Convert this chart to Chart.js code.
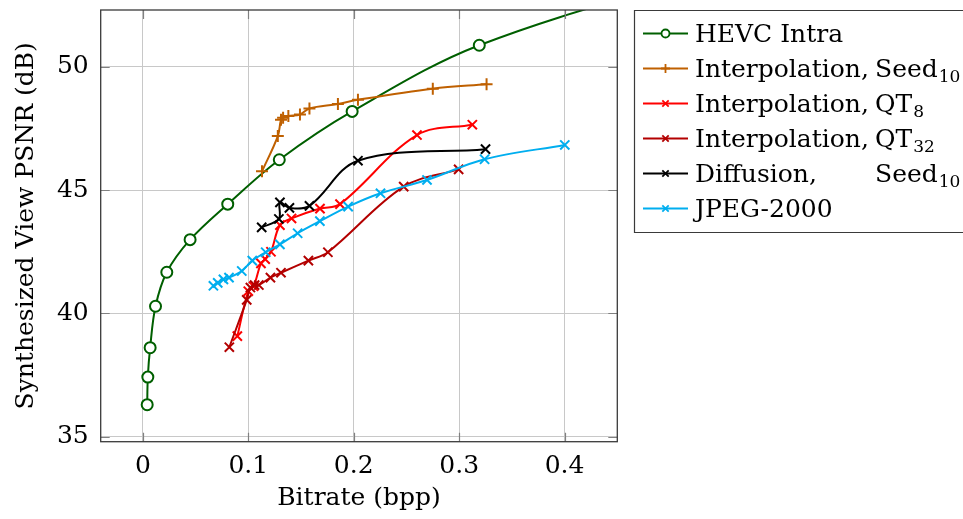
<!DOCTYPE html>
<html>
<head>
<meta charset="utf-8">
<script src="https://cdn.jsdelivr.net/npm/chart.js@4/dist/chart.umd.min.js"></script>
<style>
  html, body { margin: 0; padding: 0; background: #fff; overflow: hidden; }
  #wrap { position: relative; width: 963px; height: 519px; }
</style>
</head>
<body>
<div id="wrap"><canvas id="c" width="963" height="519"></canvas></div>
<script>
// ---------- data ----------
const hevcX = [0.0041, 0.0047, 0.0069, 0.012, 0.0227, 0.0448, 0.0805, 0.1294, 0.1985, 0.3191, 0.55];
const hevcY = [36.30, 37.42, 38.61, 40.29, 41.67, 42.99, 44.43, 46.23, 48.19, 50.87, 54.0];

const seedX = [0.113, 0.128, 0.131, 0.133, 0.138, 0.149, 0.158, 0.185, 0.204, 0.275, 0.326];
const seedY = [45.76, 47.19, 47.85, 47.93, 48.00, 48.06, 48.31, 48.49, 48.66, 49.11, 49.29];

const qt8X = [0.0896, 0.100, 0.105, 0.112, 0.116, 0.1215, 0.130, 0.141, 0.168, 0.187, 0.260, 0.3125];
const qt8Y = [39.08, 40.90, 41.10, 42.03, 42.20, 42.50, 43.58, 43.85, 44.25, 44.43, 47.23, 47.65];

const qt32X = [0.082, 0.0985, 0.102, 0.106, 0.110, 0.121, 0.131, 0.157, 0.1755, 0.2474, 0.2995];
const qt32Y = [38.63, 40.55, 41.05, 41.15, 41.15, 41.45, 41.65, 42.14, 42.48, 45.14, 45.84];

const diffX = [0.1127, 0.129, 0.130, 0.139, 0.158, 0.204, 0.325];
const diffY = [43.49, 43.83, 44.50, 44.28, 44.36, 46.19, 46.66];

const jpegX = [0.0669, 0.071, 0.0764, 0.0817, 0.0938, 0.1038, 0.1165, 0.130, 0.1468, 0.1679, 0.1947, 0.2254, 0.2695, 0.3241, 0.4002];
const jpegY = [41.12, 41.24, 41.38, 41.45, 41.72, 42.14, 42.48, 42.80, 43.25, 43.74, 44.33, 44.87, 45.41, 46.25, 46.83];

const xTicks = [0, 0.1, 0.2, 0.3, 0.4];
const yTicks = [35, 40, 45, 50];

const legendMain = ['HEVC Intra', 'Interpolation,', 'Interpolation,', 'Interpolation,', 'Diffusion,', 'JPEG-2000'];
const legendSecond = ['', 'Seed', 'QT', 'QT', 'Seed', ''];
const legendSub = ['', '10', '8', '32', '10', ''];

const xTitle = 'Bitrate (bpp)';
const yTitle = 'Synthesized View PSNR (dB)';

// ---------- helpers ----------
const FONT = '"DejaVu Serif", serif';
const zip = (xs, ys) => xs.map((x, i) => ({ x: x, y: ys[i] }));

const series = [
  { xs: hevcX, ys: hevcY, color: 'rgb(0,95,0)', style: 'circle', r: 5.5, order: 5 },
  { xs: seedX, ys: seedY, color: 'rgb(191,96,0)', style: 'cross', r: 6, order: 4 },
  { xs: qt8X, ys: qt8Y, color: 'rgb(255,0,0)', style: 'crossRot', r: 6.5, order: 3 },
  { xs: qt32X, ys: qt32Y, color: 'rgb(179,0,0)', style: 'crossRot', r: 6.5, order: 2 },
  { xs: diffX, ys: diffY, color: 'rgb(0,0,0)', style: 'crossRot', r: 6.5, order: 1 },
  { xs: jpegX, ys: jpegY, color: 'rgb(0,174,239)', style: 'crossRot', r: 6.5, order: 0 }
];

function marker(ctx, style, x, y, r, color) {
  ctx.save();
  ctx.strokeStyle = color;
  ctx.lineWidth = 1.8;
  ctx.beginPath();
  if (style === 'circle') {
    ctx.fillStyle = '#fff';
    ctx.arc(x, y, r, 0, Math.PI * 2);
    ctx.fill();
    ctx.stroke();
  } else if (style === 'cross') {
    ctx.moveTo(x - r, y); ctx.lineTo(x + r, y);
    ctx.moveTo(x, y - r); ctx.lineTo(x, y + r);
    ctx.stroke();
  } else {
    const d = r * 0.7071;
    ctx.moveTo(x - d, y - d); ctx.lineTo(x + d, y + d);
    ctx.moveTo(x - d, y + d); ctx.lineTo(x + d, y - d);
    ctx.stroke();
  }
  ctx.restore();
}

const framePlugin = {
  id: 'frame',
  afterDraw(chart) {
    const ctx = chart.ctx;
    const a = chart.chartArea;
    const xs = chart.scales.x, ys = chart.scales.y;
    ctx.save();
    ctx.strokeStyle = '#808080';
    ctx.lineWidth = 1.2;
    const tl = 9;
    ctx.beginPath();
    xTicks.forEach(v => {
      const px = Math.round(xs.getPixelForValue(v)) + 0.5;
      ctx.moveTo(px, a.bottom); ctx.lineTo(px, a.bottom - tl);
      ctx.moveTo(px, a.top); ctx.lineTo(px, a.top + tl);
    });
    yTicks.forEach(v => {
      const py = Math.round(ys.getPixelForValue(v)) + 0.5;
      ctx.moveTo(a.left, py); ctx.lineTo(a.left + tl, py);
      ctx.moveTo(a.right, py); ctx.lineTo(a.right - tl, py);
    });
    ctx.stroke();
    ctx.strokeStyle = '#3a3a3a';
    ctx.lineWidth = 1.3;
    ctx.strokeRect(a.left, a.top, a.right - a.left, a.bottom - a.top);

    // legend (right side runs off the canvas, as in the reference)
    ctx.strokeStyle = '#3a3a3a';
    ctx.lineWidth = 1.2;
    ctx.beginPath();
    ctx.moveTo(1000, 10.5); ctx.lineTo(634.5, 10.5); ctx.lineTo(634.5, 232.5); ctx.lineTo(1000, 232.5);
    ctx.stroke();
    ctx.textBaseline = 'alphabetic';
    ctx.textAlign = 'left';
    series.forEach((s, i) => {
      const y = 33.5 + i * 35;
      ctx.save();
      ctx.strokeStyle = s.color;
      ctx.lineWidth = 2;
      ctx.beginPath();
      ctx.moveTo(643, y); ctx.lineTo(688, y);
      ctx.stroke();
      ctx.restore();
      marker(ctx, s.style, 665.5, y, s.style === 'circle' ? 4 : 4.5, s.color);
      ctx.fillStyle = '#000';
      ctx.font = '25px ' + FONT;
      ctx.fillText(legendMain[i], 695, y + 8);
      if (legendSecond[i]) {
        ctx.fillText(legendSecond[i], 875, y + 8);
        const w = ctx.measureText(legendSecond[i]).width;
        ctx.font = '17px ' + FONT;
        ctx.fillText(legendSub[i], 875 + w + 1, y + 13);
      }
    });
    ctx.restore();
  }
};

const datasets = series.map((s, i) => ({
  label: legendMain[i] + ' ' + legendSecond[i] + legendSub[i],
  data: zip(s.xs, s.ys),
  showLine: true,
  borderColor: s.color,
  backgroundColor: s.style === 'circle' ? '#fff' : s.color,
  borderWidth: 2,
  pointStyle: s.style,
  pointRadius: s.r,
  pointBorderWidth: 2,
  pointBorderColor: s.color,
  pointBackgroundColor: s.style === 'circle' ? '#fff' : s.color,
  tension: 0.35,
  order: s.order,
  fill: false
}));

new Chart(document.getElementById('c'), {
  type: 'scatter',
  data: { datasets: datasets },
  options: {
    responsive: false,
    animation: false,
    events: [],
    layout: { padding: { left: 0, top: 10, right: 345.7, bottom: 0 } },
    plugins: { legend: { display: false }, tooltip: { enabled: false } },
    scales: {
      x: {
        type: 'linear',
        min: -0.04, max: 0.45,
        afterBuildTicks: sc => { sc.ticks = xTicks.map(v => ({ value: v })); },
        afterFit: sc => { sc.height = 77.3; sc.paddingLeft = 0; sc.paddingRight = 0; },
        grid: { color: '#c8c8c8', lineWidth: 1, drawTicks: false },
        border: { display: false },
        ticks: {
          color: '#000', font: { family: FONT, size: 25 }, padding: 10,
          callback: v => String(v)
        },
        title: {
          display: true, text: xTitle, color: '#000',
          font: { family: FONT, size: 25 }, padding: { top: 0, bottom: 6 }
        }
      },
      y: {
        type: 'linear',
        min: 34.8, max: 52.3,
        afterBuildTicks: sc => { sc.ticks = yTicks.map(v => ({ value: v })); },
        afterFit: sc => { sc.width = 100.7; sc.paddingTop = 0; sc.paddingBottom = 0; },
        grid: { color: '#c8c8c8', lineWidth: 1, drawTicks: false },
        border: { display: false },
        ticks: {
          color: '#000', font: { family: FONT, size: 25 }, padding: 12,
          callback: v => String(v)
        },
        title: {
          display: true, text: yTitle, color: '#000',
          font: { family: FONT, size: 25 }, padding: { top: 11, bottom: 0 }
        }
      }
    }
  },
  plugins: [framePlugin]
});
</script>
</body>
</html>
